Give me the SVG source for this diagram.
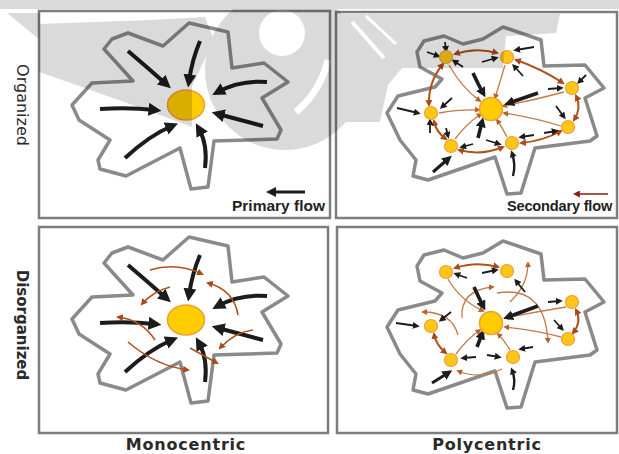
<svg xmlns="http://www.w3.org/2000/svg" xmlns:xlink="http://www.w3.org/1999/xlink" width="619" height="454" viewBox="0 0 619 454">
<style>
.frame{fill:none;stroke:#7d7d7d;stroke-width:2.5}
.city{fill:#fff;stroke:#8a8a8a;stroke-width:3.5;stroke-linejoin:round}
.k4{fill:none;stroke:#1c1c1c;stroke-width:4;marker-end:url(#mB)}
.k3{fill:none;stroke:#1c1c1c;stroke-width:3.6;marker-end:url(#mM)}
.k1{fill:none;stroke:#1c1c1c;stroke-width:1.8;marker-end:url(#mS)}
.r2{fill:none;stroke:#b0521e;stroke-width:2;marker-start:url(#mR);marker-end:url(#mR)}
.r1{fill:none;stroke:#c27a4a;stroke-width:1.3;marker-end:url(#mRs)}
.rm{fill:none;stroke:#b0521e;stroke-width:1.6;marker-end:url(#mR)}
.hub{fill:#ffcc00;stroke:#f0a030;stroke-width:1.5}
.sub{fill:#ffc61a;stroke:#f0a030;stroke-width:1.2}
.lab{font-family:"DejaVu Sans",Verdana,sans-serif;fill:#2a2a2a}
.leg{font-family:"Liberation Sans",Arial,sans-serif;font-weight:700;fill:#222}
</style>
<defs>
<marker id="mB" viewBox="0 0 10 10" refX="5" refY="5" markerWidth="13" markerHeight="13" markerUnits="userSpaceOnUse" orient="auto"><path d="M0,0 L10,5 L0,10 z" fill="#1c1c1c"/></marker>
<marker id="mM" viewBox="0 0 10 10" refX="5" refY="5" markerWidth="10" markerHeight="10" markerUnits="userSpaceOnUse" orient="auto"><path d="M0,0 L10,5 L0,10 z" fill="#1c1c1c"/></marker>
<marker id="mS" viewBox="0 0 10 10" refX="6" refY="5" markerWidth="7" markerHeight="7" markerUnits="userSpaceOnUse" orient="auto"><path d="M0,0 L10,5 L0,10 z" fill="#1c1c1c"/></marker>
<marker id="mR" viewBox="0 0 10 10" refX="7" refY="5" markerWidth="7" markerHeight="7" markerUnits="userSpaceOnUse" orient="auto-start-reverse"><path d="M0,0 L10,5 L0,10 z" fill="#a84a1a"/></marker>
<marker id="mRs" viewBox="0 0 10 10" refX="7" refY="5" markerWidth="6" markerHeight="6" markerUnits="userSpaceOnUse" orient="auto"><path d="M0,0 L10,5 L0,10 z" fill="#b8602a"/></marker>
<marker id="mD" viewBox="0 0 10 10" refX="7" refY="5" markerWidth="7" markerHeight="7" markerUnits="userSpaceOnUse" orient="auto"><path d="M0,0 L10,5 L0,10 z" fill="#8b1a1a"/></marker>
<path id="starMono" d="M104,49 L112,39 L128,33 L163,46 L189,23 L228,32 L232,68 L264,63 L288,82 L262,98 L281,130 L277,139 L214,141 L208,187 L191,189 L180,148 L126,176 L100,169 L98,160 L110,140 L79,120 L72,105 L92,83 L133,81 Z"/>
<path id="starPoly" d="M417,52 L424,41 L444,36 L463,44 L483,39 L503,27 L541,40 L544,66 L585,65 L604,88 L585,98 L597,136 L590,141 L535,148 L521,193 L507,194 L495,157 L428,180 L413,176 L416,160 L400,140 L387,113 L398,96 L435,87 L442,79 L420,67 Z"/>
<mask id="wmMask" maskUnits="userSpaceOnUse" x="0" y="0" width="619" height="454">
<rect width="619" height="454" fill="#fff"/>
<circle cx="282" cy="33" r="23" fill="#000"/>
<path d="M328,60 Q320,92 296,112" stroke="#000" stroke-width="7" fill="none"/>
<path d="M352,22 L384,58" stroke="#000" stroke-width="4"/>
<path d="M366,16 L396,44" stroke="#000" stroke-width="3"/>
</mask>
</defs>
<rect width="619" height="454" fill="#fff"/>

<g id="frames">
<rect class="frame" x="39" y="11" width="291" height="207"/>
<rect class="frame" x="336" y="12" width="281" height="206"/>
<rect class="frame" x="39" y="227" width="289" height="206"/>
<rect class="frame" x="337" y="227" width="280" height="206"/>
</g>

<g id="labels">
<text class="lab" font-size="16" text-anchor="middle" transform="translate(17,105) rotate(90)">Organized</text>
<text class="lab" font-size="15" font-weight="700" text-anchor="middle" transform="translate(17,325) rotate(90)">Disorganized</text>
<text class="lab" font-size="16" font-weight="700" letter-spacing="0.8" text-anchor="middle" x="186" y="450">Monocentric</text>
<text class="lab" font-size="16" font-weight="700" letter-spacing="0.8" text-anchor="middle" x="487" y="450">Polycentric</text>
</g>

<g id="legend-primary">
<path class="k3" d="M305,192 L271,192" style="stroke-width:3"/>
<text class="leg" font-size="15.5" x="232" y="211">Primary flow</text>
</g>
<g id="legend-secondary">
<path d="M608,194 L575,194" fill="none" stroke="#8b1a1a" stroke-width="1.6" marker-end="url(#mD)"/>
<text class="leg" font-size="14.6" letter-spacing="-0.2" x="507" y="211">Secondary flow</text>
</g>

<!-- Panel 1: organized monocentric -->
<g id="city-org-mono"><use xlink:href="#starMono" class="city"/></g>
<g id="connectors-org-mono">
<path class="k4" d="M128,51 Q148,68 166,84"/>
<path class="k4" d="M200,41 Q192,60 189,81"/>
<path class="k4" d="M267,82 Q240,80 218,92"/>
<path class="k4" d="M263,126 L218,114"/>
<path class="k4" d="M205,168 Q208,145 199,129"/>
<path class="k4" d="M125,158 Q150,135 172,126"/>
<path class="k4" d="M100,109 Q128,107 155,110"/>
</g>
<g id="hub-org-mono"><ellipse class="hub" cx="186" cy="105" rx="18.5" ry="15"/></g>

<!-- Panel 3: disorganized monocentric -->
<g id="city-dis-mono"><use xlink:href="#starMono" class="city" transform="translate(0,214)"/></g>
<g id="connectors-dis-mono">
<g transform="translate(0,214)">
<path class="k4" d="M128,51 Q148,68 166,84"/>
<path class="k4" d="M200,41 Q192,60 189,81"/>
<path class="k4" d="M267,82 Q240,80 218,92"/>
<path class="k4" d="M263,126 L218,114"/>
<path class="k4" d="M205,168 Q208,145 199,129"/>
<path class="k4" d="M125,158 Q150,135 172,126"/>
<path class="k4" d="M100,109 Q128,107 155,110"/>
</g>
<path class="rm" d="M150,270 Q176,262 202,274"/>
<path class="rm" d="M170,287 Q152,292 142,304"/>
<path class="rm" d="M238,315 Q234,290 208,283"/>
<path class="rm" d="M155,340 Q142,320 118,317"/>
<path class="rm" d="M128,342 Q156,366 188,370"/>
<path class="rm" d="M190,348 L217,363"/>
<path class="rm" d="M253,330 Q235,332 220,348"/>
</g>
<g id="hub-dis-mono"><ellipse class="hub" cx="186" cy="320" rx="18.5" ry="15"/></g>

<!-- Panel 2: organized polycentric -->
<g id="city-org-poly"><use xlink:href="#starPoly" class="city"/></g>
<g id="connectors-org-poly">
<path class="r2" d="M455,54 Q476,47 497,53"/>
<path class="r2" d="M516,60 Q540,68 563,83"/>
<path class="r2" d="M443,64 Q428,82 429,105"/>
<path class="r2" d="M576,96 Q582,108 574,120"/>
<path class="r2" d="M434,121 Q436,132 446,139"/>
<path class="r2" d="M459,150 Q482,156 503,147"/>
<path class="r2" d="M521,143 Q543,141 561,131"/>
<path class="r1" d="M449,65 Q462,88 480,101"/>
<path class="r1" d="M505,65 Q500,82 495,98"/>
<path class="r1" d="M564,92 Q535,100 503,106"/>
<path class="r1" d="M561,126 Q535,118 504,113"/>
<path class="r1" d="M507,137 Q502,127 497,120"/>
<path class="r1" d="M455,139 Q466,124 481,114"/>
<path class="r1" d="M439,113 Q460,109 479,110"/>
<path class="k1" d="M445,42 L446,50"/>
<path class="k1" d="M427,52 L438,56"/>
<path class="k1" d="M463,67 L454,61"/>
<path class="k1" d="M482,62 L496,58"/>
<path class="k1" d="M534,47 L516,50"/>
<path class="k1" d="M523,76 L514,66"/>
<path class="k1" d="M548,89 L561,88"/>
<path class="k1" d="M586,75 L579,82"/>
<path class="k1" d="M556,106 L564,117"/>
<path class="k1" d="M534,135 L521,137"/>
<path class="k1" d="M544,133 L556,131"/>
<path class="k1" d="M513,176 Q516,165 512,153" style="stroke-width:2.4"/>
<path class="k1" d="M486,140 L499,144"/>
<path class="k1" d="M473,144 L462,147"/>
<path class="k1" d="M430,133 L430,121"/>
<path class="k1" d="M446,128 L448,136"/>
<path class="k1" d="M397,108 L418,113"/>
<path class="k1" d="M452,98 L442,107"/>
<path class="k3" d="M473,73 Q478,84 483,93"/>
<path class="k3" d="M538,93 L509,103"/>
<path class="k3" d="M478,138 L482,122"/>
<path class="k3" d="M433,172 L448,159" style="stroke-width:3"/>
</g>
<g id="nodes-org-poly">
<circle id="op-hub" class="hub" cx="491" cy="109" r="11.5"/>
<circle id="op-n1" class="sub" cx="446" cy="57" r="6.5"/>
<circle id="op-n2" class="sub" cx="507" cy="57" r="6.5"/>
<circle id="op-n3" class="sub" cx="572" cy="88" r="6.5"/>
<circle id="op-n4" class="sub" cx="568" cy="127" r="6.5"/>
<circle id="op-n5" class="sub" cx="512" cy="143" r="6.5"/>
<circle id="op-n6" class="sub" cx="451" cy="146" r="6.5"/>
<circle id="op-n7" class="sub" cx="431" cy="113" r="6.5"/>
</g>

<!-- Panel 4: disorganized polycentric -->
<g id="city-dis-poly"><use xlink:href="#starPoly" class="city" transform="translate(0,214)"/></g>
<g id="connectors-dis-poly">
<path class="r2" d="M455,268 Q476,261 498,267"/>
<path class="r2" d="M434,334 Q436,345 446,353"/>
<path class="r2" d="M576,310 Q582,322 573,333"/>
<path class="r1" d="M448,279 Q460,300 483,311"/>
<path class="r1" d="M566,307 Q535,312 505,318"/>
<path class="r1" d="M561,337 Q535,330 505,327"/>
<path class="r1" d="M510,350 Q504,340 498,334"/>
<path class="r1" d="M456,354 Q466,340 480,330"/>
<path class="r1" d="M502,369 Q480,380 458,371"/>
<path class="r1" d="M462,318 Q460,290 493,287"/>
<path class="r1" d="M510,302 Q528,285 528,263"/>
<path class="r1" d="M497,293 Q545,285 548,342"/>
<path class="r1" d="M458,335 Q452,312 423,312"/>
<path class="k1" d="M467,278 L456,274"/>
<path class="k1" d="M482,273 L496,270"/>
<path class="k1" d="M525,292 L516,281"/>
<path class="k1" d="M548,302 L560,301"/>
<path class="k1" d="M554,320 L562,329"/>
<path class="k1" d="M533,347 L521,349"/>
<path class="k1" d="M487,355 L499,357"/>
<path class="k1" d="M476,357 L463,358"/>
<path class="k1" d="M513,390 Q516,380 512,370" style="stroke-width:2.4"/>
<path class="k1" d="M396,323 L417,326"/>
<path class="k1" d="M451,312 L441,320"/>
<path class="k3" d="M474,287 Q479,298 483,306"/>
<path class="k3" d="M538,306 L508,317"/>
<path class="k3" d="M477,347 L482,334"/>
<path class="k3" d="M432,383 L448,373" style="stroke-width:3"/>
</g>
<g id="nodes-dis-poly">
<circle id="dp-hub" class="hub" cx="491" cy="323" r="11.5"/>
<circle id="dp-n1" class="sub" cx="446" cy="272" r="6.5"/>
<circle id="dp-n2" class="sub" cx="507" cy="271" r="6.5"/>
<circle id="dp-n3" class="sub" cx="572" cy="302" r="6.5"/>
<circle id="dp-n4" class="sub" cx="568" cy="339" r="6.5"/>
<circle id="dp-n5" class="sub" cx="513" cy="357" r="6.5"/>
<circle id="dp-n6" class="sub" cx="451" cy="360" r="6.5"/>
<circle id="dp-n7" class="sub" cx="431" cy="326" r="6.5"/>
</g>

<!-- faint watermark overlay -->
<g id="watermark" mask="url(#wmMask)" opacity="0.14" fill="#000">
<rect x="0" y="0" width="619" height="9"/>
<path d="M7,13 L40,13 L40,40 Z"/>
<path d="M39,24 L150,20 L205,17 L214,40 L192,86 L192,127 Q120,100 39,72 Z"/>
<circle cx="285" cy="70" r="80"/>
<path d="M336,14 L560,14 L556,33 L506,36 L503,68 L402,68 L388,85 L380,122 L336,122 Z"/>
</g>
</svg>
